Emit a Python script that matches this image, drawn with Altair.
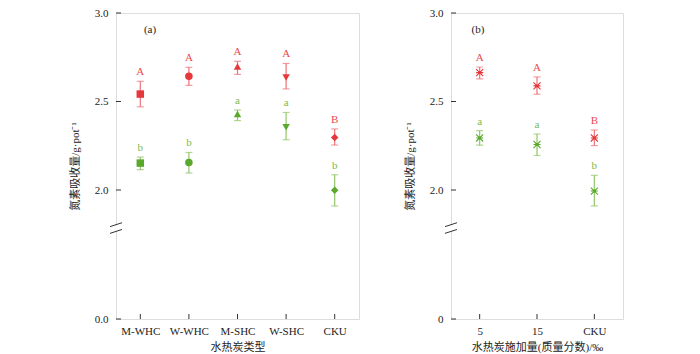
import altair as alt
import pandas as pd

# ---------------- data ----------------
groups_a = ["M-WHC", "W-WHC", "M-SHC", "W-SHC", "CKU"]
shapes_a = ["square", "circle", "triangle-up", "triangle-down", "diamond"]
red_a_mean = [2.542, 2.642, 2.698, 2.636, 2.297]
red_a_hi = [2.614, 2.693, 2.727, 2.715, 2.345]
red_a_lo = [2.470, 2.591, 2.653, 2.571, 2.254]
red_a_letter = ["A", "A", "A", "A", "B"]
green_a_mean = [2.152, 2.156, 2.429, 2.354, 1.998]
green_a_hi = [2.186, 2.212, 2.452, 2.438, 2.086]
green_a_lo = [2.115, 2.096, 2.392, 2.284, 1.910]
green_a_letter = ["b", "b", "a", "a", "b"]

groups_b = ["5", "15", "CKU"]
red_b_mean = [2.663, 2.588, 2.294]
red_b_hi = [2.695, 2.639, 2.339]
red_b_lo = [2.628, 2.541, 2.251]
red_b_letter = ["A", "A", "B"]
green_b_mean = [2.294, 2.257, 1.994]
green_b_hi = [2.335, 2.316, 2.083]
green_b_lo = [2.253, 2.195, 1.910]
green_b_letter = ["a", "a", "b"]

y_ticks = [0.0, 2.0, 2.5, 3.0]
break_marks = [(1.793, 1.815), (1.755, 1.777)]

# ---------------- style ----------------
COLORS = {
    "red": ("#e5383c", "#ee7378", "#ea4a4f"),      # marker, error bar, letter
    "green": ("#5aa82c", "#92c66a", "#7cba4e"),
}
SERIF = "Liberation Serif"
MIXED = "Liberation Serif, Noto Sans CJK SC"
H = 306
YTITLE = "氮素吸收量/g·pot⁻¹"

yscale = alt.Scale(domain=[0, 1.7, 3.0], range=[H, (3.0 - 1.7) * 177, 0], nice=False, zero=False)


def make_df(groups, rm, rh, rl, rlet, gm, gh, gl, glet, shapes=None):
    rows = []
    for i, g in enumerate(groups):
        for s, m, hi, lo, let in (("red", rm[i], rh[i], rl[i], rlet[i]),
                                  ("green", gm[i], gh[i], gl[i], glet[i])):
            mc, ec, tc = COLORS[s]
            rows.append(dict(g=g, s=s, m=m, hi=hi, lo=lo, let=let, mc=mc, ec=ec, tc=tc,
                             shp=shapes[i] if shapes else "circle"))
    return pd.DataFrame(rows)


def panel(df, groups, width, xtitle, tag, tagx, zero_label, star):
    xs = alt.Scale(type="point", padding=0.5, domain=groups)
    x_enc = alt.X("g:N", scale=xs, sort=groups, title=xtitle,
                  axis=alt.Axis(labelAngle=0, ticks=False, domain=False, grid=False,
                                labelFont=SERIF, labelFontSize=11, labelColor="#222",
                                labelPadding=6, titleFont=MIXED, titleFontSize=11,
                                titleFontWeight="normal", titleColor="#222", titlePadding=5))
    label_expr = ("datum.value == 0 ? '0' : format(datum.value, '.1f')" if zero_label
                  else "format(datum.value, '.1f')")
    y_axis = alt.Axis(values=y_ticks, labelExpr=label_expr, ticks=False, domain=False, grid=False,
                      labelFont=SERIF, labelFontSize=11, labelColor="#222", labelPadding=8,
                      titleFont=MIXED, titleFontSize=11, titleFontWeight="normal", titleColor="#222",
                      titlePadding=14)
    base = alt.Chart(df)
    err = base.mark_rule(strokeWidth=1.2).encode(
        x=x_enc, y=alt.Y("lo:Q", scale=yscale, axis=y_axis, title=YTITLE), y2="hi:Q",
        color=alt.Color("ec:N", scale=None))
    cap_hi = base.mark_tick(size=7, thickness=1.2).encode(
        x=x_enc, y=alt.Y("hi:Q", scale=yscale), color=alt.Color("ec:N", scale=None))
    cap_lo = base.mark_tick(size=7, thickness=1.2).encode(
        x=x_enc, y=alt.Y("lo:Q", scale=yscale), color=alt.Color("ec:N", scale=None))
    if star:
        pts = base.mark_point(filled=False, opacity=1, strokeWidth=1.1, size=50,
                              shape="M-1,-1L1,1M-1,1L1,-1M-1,0L1,0").encode(
            x=x_enc, y=alt.Y("m:Q", scale=yscale), stroke=alt.Stroke("mc:N", scale=None))
        dot = base.mark_point(filled=True, opacity=1, size=8, shape="square").encode(
            x=x_enc, y=alt.Y("m:Q", scale=yscale), color=alt.Color("mc:N", scale=None))
        marks = [pts, dot]
    else:
        pts = base.mark_point(filled=True, opacity=1, size=56).encode(
            x=x_enc, y=alt.Y("m:Q", scale=yscale), color=alt.Color("mc:N", scale=None),
            shape=alt.Shape("shp:N", scale=None))
        marks = [pts]
    letters = base.mark_text(font=SERIF, fontSize=11, dy=-9, baseline="middle").encode(
        x=x_enc, y=alt.Y("hi:Q", scale=yscale), text="let:N", color=alt.Color("tc:N", scale=None))
    # inward ticks
    ytk = alt.Chart(pd.DataFrame({"v": y_ticks})).mark_rule(color="#333", strokeWidth=1).encode(
        y=alt.Y("v:Q", scale=yscale), x=alt.value(0), x2=alt.value(5))
    xtk = alt.Chart(pd.DataFrame({"g": groups})).mark_rule(color="#333", strokeWidth=1).encode(
        x=alt.X("g:N", scale=xs, sort=groups), y=alt.value(H), y2=alt.value(H - 5))
    # axis break
    gap = alt.Chart(pd.DataFrame({"a": [1.771], "b": [1.799]})).mark_rule(color="white", strokeWidth=3).encode(
        x=alt.value(0), y=alt.Y("a:Q", scale=yscale), y2="b:Q")
    bdf = pd.DataFrame({"y1": [b[0] for b in break_marks], "y2": [b[1] for b in break_marks]})
    brk = alt.Chart(bdf).mark_rule(color="#333", strokeWidth=1).encode(
        x=alt.value(-6), x2=alt.value(6), y=alt.Y("y1:Q", scale=yscale), y2="y2:Q")
    tagc = alt.Chart(pd.DataFrame({"t": [tag]})).mark_text(font=SERIF, fontSize=11, color="#222").encode(
        text="t:N", x=alt.value(tagx), y=alt.value(17))
    return alt.layer(err, cap_hi, cap_lo, *marks, letters, ytk, xtk, gap, brk, tagc).properties(
        width=width, height=H)


df_a = make_df(groups_a, red_a_mean, red_a_hi, red_a_lo, red_a_letter,
               green_a_mean, green_a_hi, green_a_lo, green_a_letter, shapes_a)
df_b = make_df(groups_b, red_b_mean, red_b_hi, red_b_lo, red_b_letter,
               green_b_mean, green_b_hi, green_b_lo, green_b_letter)

pa = panel(df_a, groups_a, 243, "水热炭类型", "(a)", 34, False, False)
pb = panel(df_b, groups_b, 172, "水热炭施加量(质量分数)/‰", "(b)", 27, True, True)

chart = alt.hconcat(pa, pb, spacing=92, bounds="flush").properties(
    padding={"left": 68, "top": 6, "right": 5, "bottom": 0}
).configure_view(stroke="#222", strokeWidth=1).configure(background="white")

chart.save("out.html", embed_options={"renderer": "svg", "actions": False})
